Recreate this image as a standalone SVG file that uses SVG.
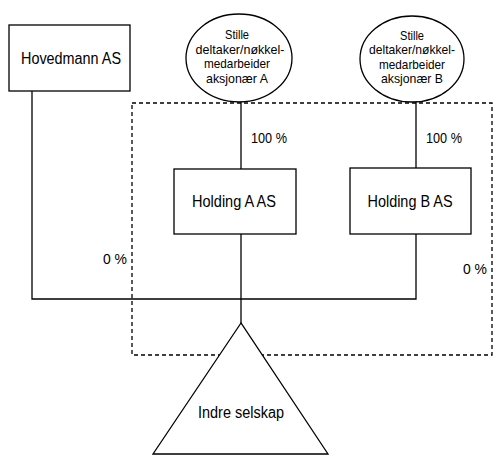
<svg xmlns="http://www.w3.org/2000/svg" width="500" height="455" viewBox="0 0 500 455">
<style>
.s{fill:#fff;stroke:#000;stroke-width:1.3}
.t{font-family:"Liberation Sans",Arial,sans-serif;font-size:16px;fill:#000;text-anchor:middle}
.e{font-family:"Liberation Sans",Arial,sans-serif;font-size:13px;fill:#000;text-anchor:middle}
.p{font-family:"Liberation Sans",Arial,sans-serif;font-size:14px;fill:#000}
.l{fill:none;stroke:#000;stroke-width:1.3}
.d{fill:none;stroke:#000;stroke-width:1.3;stroke-dasharray:4,3}
</style>
<rect width="500" height="455" fill="#fff"/>
<g id="connectors">
<polyline class="l" points="32,91 32,299 416,299 416,234"/>
<line class="l" x1="241" y1="102" x2="241" y2="169"/>
<line class="l" x1="416" y1="102" x2="416" y2="168"/>
<line class="l" x1="241" y1="234" x2="241" y2="323"/>
</g>
<g id="boundary">
<rect class="d" x="132" y="103" width="360" height="252"/>
</g>
<g id="indre">
<polygon class="s" points="241,323 153,454 328,454"/>
<text class="t" x="241" y="418" textLength="86" lengthAdjust="spacingAndGlyphs">Indre selskap</text>
</g>
<g id="hovedmann">
<rect class="s" x="9" y="25" width="121" height="66"/>
<text class="t" x="71" y="64" textLength="100" lengthAdjust="spacingAndGlyphs">Hovedmann AS</text>
</g>
<g id="stilleA">
<ellipse class="s" cx="239" cy="58" rx="53" ry="44"/>
<text class="e" x="237" y="39" textLength="24" lengthAdjust="spacingAndGlyphs">Stille</text>
<text class="e" x="240" y="53.5" textLength="89" lengthAdjust="spacingAndGlyphs">deltaker/nøkkel-</text>
<text class="e" x="237" y="68" textLength="66" lengthAdjust="spacingAndGlyphs">medarbeider</text>
<text class="e" x="237" y="82.5" textLength="62" lengthAdjust="spacingAndGlyphs">aksjonær A</text>
</g>
<g id="stilleB">
<ellipse class="s" cx="412" cy="59" rx="52" ry="43"/>
<text class="e" x="412" y="39.5" textLength="24" lengthAdjust="spacingAndGlyphs">Stille</text>
<text class="e" x="412" y="54" textLength="86" lengthAdjust="spacingAndGlyphs">deltaker/nøkkel-</text>
<text class="e" x="412" y="68.5" textLength="66" lengthAdjust="spacingAndGlyphs">medarbeider</text>
<text class="e" x="412" y="83" textLength="62" lengthAdjust="spacingAndGlyphs">aksjonær B</text>
</g>
<g id="holdingA">
<rect class="s" x="174" y="169" width="122" height="65"/>
<text class="t" x="234" y="207" textLength="84" lengthAdjust="spacingAndGlyphs">Holding A AS</text>
</g>
<g id="holdingB">
<rect class="s" x="350" y="168" width="121" height="66"/>
<text class="t" x="410" y="207" textLength="85" lengthAdjust="spacingAndGlyphs">Holding B AS</text>
</g>
<g id="labels">
<text class="p" x="251" y="143" textLength="36" lengthAdjust="spacingAndGlyphs">100 %</text>
<text class="p" x="426" y="143" textLength="36" lengthAdjust="spacingAndGlyphs">100 %</text>
<text class="p" x="103" y="264" textLength="24" lengthAdjust="spacingAndGlyphs">0 %</text>
<text class="p" x="463" y="274" textLength="24" lengthAdjust="spacingAndGlyphs">0 %</text>
</g>
</svg>
